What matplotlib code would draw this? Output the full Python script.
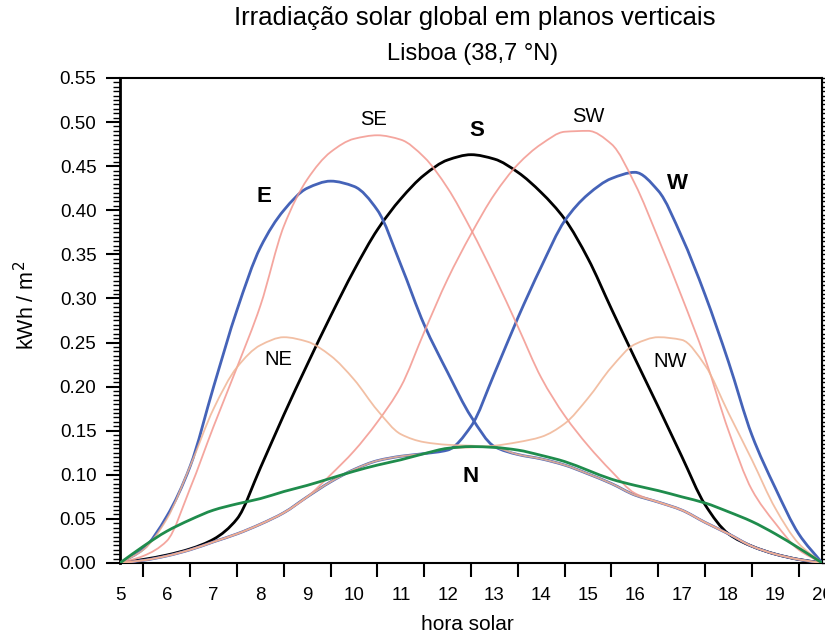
import matplotlib
matplotlib.use("Agg")
import matplotlib.pyplot as plt
from matplotlib.path import Path
from matplotlib.patches import PathPatch
import numpy as np

plt.rcParams['font.family'] = ['Liberation Sans', 'DejaVu Sans']

# hora solar, de meia em meia hora
hora = np.arange(5, 20.01, 0.5)

irr_S = [0.000, 0.004, 0.009, 0.016, 0.027, 0.050, 0.108, 0.168, 0.225, 0.280,
         0.332, 0.378, 0.413, 0.440, 0.457, 0.463, 0.458, 0.443, 0.420, 0.390,
         0.345, 0.288, 0.232, 0.177, 0.121, 0.066, 0.033, 0.019, 0.010, 0.004, 0.000]
irr_E = [0.000, 0.016, 0.053, 0.110, 0.200, 0.287, 0.358, 0.400, 0.425, 0.433,
         0.427, 0.400, 0.338, 0.270, 0.216, 0.166, 0.132, 0.123, 0.118, 0.111,
         0.101, 0.090, 0.077, 0.069, 0.060, 0.046, 0.033, 0.019, 0.010, 0.004, 0.000]
irr_W = [0.000, 0.003, 0.008, 0.015, 0.024, 0.033, 0.044, 0.057, 0.075, 0.092,
         0.106, 0.116, 0.121, 0.124, 0.128, 0.155, 0.215, 0.278, 0.336, 0.388,
         0.418, 0.436, 0.443, 0.422, 0.370, 0.304, 0.228, 0.145, 0.085, 0.033, 0.000]
irr_SE = [0.000, 0.008, 0.025, 0.085, 0.155, 0.222, 0.292, 0.382, 0.435, 0.466,
          0.481, 0.485, 0.480, 0.460, 0.425, 0.378, 0.325, 0.268, 0.210, 0.167,
          0.133, 0.104, 0.079, 0.069, 0.060, 0.046, 0.033, 0.019, 0.010, 0.004, 0.000]
irr_SW = [0.000, 0.003, 0.008, 0.015, 0.024, 0.033, 0.044, 0.057, 0.075, 0.100,
          0.127, 0.160, 0.200, 0.262, 0.322, 0.373, 0.418, 0.452, 0.475, 0.489,
          0.490, 0.475, 0.430, 0.368, 0.302, 0.232, 0.150, 0.083, 0.045, 0.015, 0.000]
irr_NE = [0.000, 0.015, 0.050, 0.110, 0.175, 0.222, 0.247, 0.256, 0.251, 0.235,
          0.208, 0.173, 0.146, 0.137, 0.134, 0.133, 0.131, 0.123, 0.118, 0.111,
          0.101, 0.090, 0.077, 0.069, 0.060, 0.046, 0.033, 0.019, 0.010, 0.004, 0.000]
irr_NW = [0.000, 0.003, 0.008, 0.015, 0.024, 0.033, 0.044, 0.057, 0.075, 0.092,
          0.106, 0.116, 0.121, 0.124, 0.130, 0.131, 0.133, 0.137, 0.143, 0.158,
          0.187, 0.222, 0.248, 0.256, 0.253, 0.224, 0.170, 0.117, 0.062, 0.022, 0.000]
irr_N = [0.000, 0.019, 0.036, 0.049, 0.060, 0.067, 0.073, 0.081, 0.088, 0.096,
         0.104, 0.111, 0.117, 0.124, 0.130, 0.132, 0.131, 0.128, 0.122, 0.115,
         0.105, 0.095, 0.088, 0.082, 0.075, 0.068, 0.058, 0.047, 0.033, 0.017, 0.000]

rotulos = ['SE', 'SW', 'S', 'E', 'W', 'NE', 'NW', 'N']
rot_x = [10.42, 15.0, 12.63, 8.08, 16.9, 8.38, 16.76, 12.48]
rot_y = [0.503, 0.506, 0.490, 0.416, 0.430, 0.231, 0.229, 0.098]

azul = '#4563b8'
rosa = '#f3978e'
pessego = '#f0b494'


def curva(ax, x, y, **kw):
    # linha suave (cubica monotona) a passar pelos pontos medidos
    x = np.asarray(x, float)
    y = np.asarray(y, float)
    h = np.diff(x)
    d = np.diff(y) / h
    m = np.zeros_like(y)
    m[0], m[-1] = d[0], d[-1]
    for i in range(1, len(y) - 1):
        if d[i - 1] * d[i] > 0:
            m[i] = 2.0 / (1.0 / d[i - 1] + 1.0 / d[i])
    verts = [(x[0], y[0])]
    codes = [Path.MOVETO]
    for i in range(len(h)):
        verts += [(x[i] + h[i] / 3, y[i] + m[i] * h[i] / 3),
                  (x[i + 1] - h[i] / 3, y[i + 1] - m[i + 1] * h[i] / 3),
                  (x[i + 1], y[i + 1])]
        codes += [Path.CURVE4] * 3
    ax.add_patch(PathPatch(Path(verts, codes), fill=False, capstyle='round',
                           joinstyle='round', **kw))


fig = plt.figure(figsize=(8.25, 6.39), dpi=100)
ax = fig.add_axes([0.1455, 0.119, 0.851, 0.759])

curva(ax, hora, irr_S, edgecolor='black', lw=2.0, zorder=2)
curva(ax, hora, irr_E, edgecolor=azul, lw=2.0, zorder=3)
curva(ax, hora, irr_W, edgecolor=azul, lw=2.0, zorder=3)
curva(ax, hora, irr_SE, edgecolor=rosa, lw=1.3, alpha=0.85, zorder=4)
curva(ax, hora, irr_SW, edgecolor=rosa, lw=1.3, alpha=0.85, zorder=4)
curva(ax, hora, irr_NE, edgecolor=pessego, lw=1.3, alpha=0.85, zorder=4)
curva(ax, hora, irr_NW, edgecolor=pessego, lw=1.3, alpha=0.85, zorder=4)
curva(ax, hora, irr_N, edgecolor='#1f8c4c', lw=2.0, zorder=5)

for r, x, y in zip(rotulos, rot_x, rot_y):
    if len(r) == 1:
        ax.text(x, y, r, fontsize=16, fontweight='bold', ha='center', va='center')
    else:
        ax.text(x, y, r, fontsize=14.5, ha='center', va='center')

ax.set_xlim(5, 20)
ax.set_ylim(0, 0.55)

ax.set_xticks(np.arange(5, 21, 1))
ax.set_xticklabels([str(h) for h in range(5, 21)], fontsize=13.5)
ax.set_xticks(np.arange(5.5, 20, 1), minor=True)
ax.tick_params(axis='x', which='major', length=0, pad=17)
ax.tick_params(axis='x', which='minor', length=10, width=1.5, direction='out')

ax.set_yticks(np.arange(0, 0.551, 0.05))
ax.set_yticklabels(['%.2f' % v for v in np.arange(0, 0.551, 0.05)], fontsize=13.5)
ax.set_yticks(np.arange(0, 0.551, 0.005), minor=True)
ax.tick_params(axis='y', which='major', length=10, width=1.5, pad=7,
               left=True, right=False)
ax.tick_params(axis='y', which='minor', length=5, width=1.0, left=True, right=False)

sec = ax.secondary_yaxis('right')
sec.set_yticks(np.arange(0, 0.551, 0.005))
sec.tick_params(length=3, width=1.0, labelright=False)

for lado in ['left', 'bottom', 'top', 'right']:
    ax.spines[lado].set_linewidth(1.5)
ax.spines['left'].set_linewidth(2.0)

fig.text(467 / 825, 1 - 625 / 639, 'hora solar', fontsize=15, ha='center', va='center')
fig.text(27 / 825, 1 - 305 / 639, 'kWh / m$^2$', fontsize=15.5, rotation=90,
         ha='center', va='center')

fig.text(475 / 825, 1 - 18 / 639, 'Irradiação solar global em planos verticais',
         fontsize=18.5, ha='center', va='center')
fig.text(473 / 825, 1 - 54 / 639, 'Lisboa (38,7 °N)', fontsize=17, ha='center',
         va='center')

fig.savefig('out.png', dpi=100)
